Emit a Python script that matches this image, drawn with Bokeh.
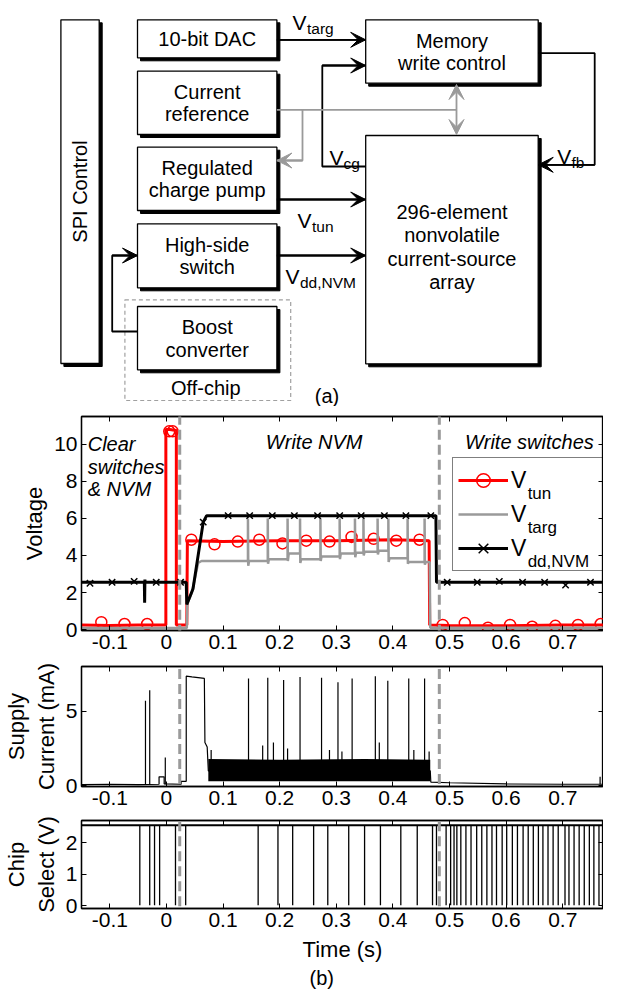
import math
from bokeh.plotting import figure
from bokeh.models import (Range1d, LinearAxis, FixedTicker, CustomJSTickFormatter,
                          Legend, LegendItem, Label, Arrow, VeeHead, Whisker,
                          ColumnDataSource, Title)
from bokeh.layouts import column, row
from bokeh.core.properties import value
from bokeh.embed import file_html
from bokeh.resources import INLINE

FONT = "Liberation Sans"
GRAY = "#9a9a9a"
RED = "#ff0000"

# ================= (a) block diagram (page-pixel layout) =================
box_left   = [60.4, 137.0, 137.0, 137.0, 137.0, 137.0, 365.2, 365.2]
box_top    = [19.3, 19.3, 70.7, 146.7, 223.3, 306.0, 19.3, 135.0]
box_right  = [98.7, 276.4, 276.4, 276.4, 276.4, 276.4, 537.7, 537.7]
box_bottom = [363.0, 57.3, 134.0, 210.0, 287.3, 369.3, 82.7, 363.3]

box_text   = ["10-bit DAC", "Current", "reference", "Regulated", "charge pump",
              "High-side", "switch", "Boost", "converter", "Memory", "write control",
              "296-element", "nonvolatile", "current-source", "array", "Off-chip"]
box_text_x = [206.7, 206.7, 206.7, 206.7, 206.7, 206.7, 206.7, 206.7, 206.7,
              451.5, 451.5, 451.5, 451.5, 451.5, 451.5, 205.3]
box_text_y = [38.5, 91.0, 113.5, 167.0, 189.5, 244.0, 266.5, 326.5, 349.0,
              40.5, 62.5, 211.0, 234.5, 258.0, 281.5, 387.0]

wires_black = [
    [(276.4, 39.3), (365.2, 39.3)],
    [(365.2, 166.0), (321.8, 166.0), (321.8, 65.0), (365.2, 65.0)],
    [(537.7, 52.7), (594.2, 52.7), (594.2, 164.3), (537.7, 164.3)],
    [(276.4, 199.0), (365.2, 199.0)],
    [(276.4, 255.0), (365.2, 255.0)],
    [(137.0, 331.0), (111.7, 331.0), (111.7, 255.0), (137.0, 255.0)],
]
wires_gray = [
    [(276.4, 109.3), (456.0, 109.3)],
    [(302.0, 109.3), (302.0, 160.0), (276.4, 160.0)],
]
gray_double = [(456.0, 84.0), (456.0, 134.0)]

sig_main = ["V", "V", "V", "V", "V"]
sig_sub = ["targ", "cg", "fb", "tun", "dd,NVM"]
sig_vx = [292.0, 329.0, 556.7, 297.0, 285.0]
sig_vy = [22.0, 157.0, 156.0, 220.0, 276.0]
sig_sx = [306.5, 343.0, 571.0, 311.5, 299.5]
sig_sy = [27.5, 162.5, 161.5, 225.5, 281.5]

# ================= (b) measured traces =================
x_ticks = [-0.1, 0.0, 0.1, 0.2, 0.3, 0.4, 0.5, 0.6, 0.7]
volt_ticks = [0, 2, 4, 6, 8, 10]
curr_ticks = [0, 5]
cs_ticks = [0, 1, 2]
phase_bounds = [0.0235, 0.482]

t_tun = [-0.15, -0.1, -0.05, -0.001, -0.001, 0.006, 0.0175, 0.0175, 0.036, 0.037,
         0.1, 0.2, 0.3, 0.4, 0.464, 0.465, 0.5, 0.6, 0.7, 0.8]
v_tun = [0.25, 0.22, 0.25, 0.25, 10.8, 10.8, 10.75, 0.25, 0.25, 4.8,
         4.75, 4.8, 4.8, 4.85, 4.8, 0.25, 0.22, 0.2, 0.25, 0.25]
t_tun_mk = [-0.115, -0.074, -0.034, 0.005, 0.011, 0.044, 0.085, 0.126, 0.164, 0.205,
            0.247, 0.288, 0.327, 0.366, 0.406, 0.447, 0.488, 0.527, 0.568, 0.607,
            0.646, 0.687, 0.727, 0.767]
v_tun_mk = [0.4, 0.3, 0.3, 10.7, 10.7, 4.85, 4.6, 4.75, 4.85, 4.65,
            4.8, 4.75, 5.0, 4.9, 4.8, 4.85, 0.25, 0.35, 0.1, 0.25,
            0.15, 0.2, 0.25, 0.3]

t_targ = [-0.15, 0.036, 0.037, 0.045, 0.056, 0.062,
          0.144, 0.144, 0.1445, 0.146,
          0.179, 0.179, 0.1795, 0.181,
          0.214, 0.214, 0.2145, 0.216,
          0.236, 0.236, 0.2365, 0.238,
          0.272, 0.272, 0.2725, 0.274,
          0.306, 0.306, 0.3065, 0.308,
          0.333, 0.333, 0.3335, 0.335,
          0.348, 0.348, 0.3485, 0.350,
          0.373, 0.373, 0.3735, 0.375,
          0.392, 0.392, 0.3925, 0.394,
          0.426, 0.426, 0.4265, 0.428,
          0.456, 0.456, 0.4565, 0.458,
          0.465, 0.466, 0.8]
v_targ = [0.08, 0.08, 1.4, 2.0, 3.6, 3.7,
          3.7, 6.0, 3.45, 3.7,
          3.7, 6.0, 3.55, 3.8,
          3.8, 6.0, 3.7, 4.1,
          4.1, 6.0, 3.6, 3.8,
          3.8, 6.0, 3.7, 3.95,
          3.95, 6.0, 3.8, 4.1,
          4.1, 6.0, 3.9, 4.15,
          4.15, 6.0, 4.0, 4.2,
          4.2, 6.0, 4.05, 4.25,
          4.25, 6.0, 3.65, 3.85,
          3.85, 6.0, 3.55, 3.65,
          3.65, 6.0, 3.5, 3.65,
          3.65, 0.1, 0.1]

t_dd = [-0.15, -0.039, -0.0385, -0.038, -0.0375, 0.035, 0.036, 0.047, 0.065, 0.071,
        0.476, 0.477, 0.8]
v_dd = [2.55, 2.55, 1.45, 2.7, 2.55, 2.55, 1.35, 2.2, 5.8, 6.15,
        6.15, 2.55, 2.55]
t_dd_mk = [-0.135, -0.096, -0.057, -0.018, 0.025, 0.065, 0.109, 0.147, 0.187, 0.226,
           0.267, 0.306, 0.344, 0.385, 0.423, 0.467, 0.496, 0.549, 0.588, 0.629,
           0.668, 0.705, 0.749, 0.79]
v_dd_mk = [2.5, 2.55, 2.6, 2.55, 2.55, 5.8, 6.15, 6.15, 6.15, 6.15,
           6.15, 6.15, 6.15, 6.15, 6.15, 6.15, 2.55, 2.55, 2.6, 2.55,
           2.55, 2.4, 2.55, 2.5]

t_cur = [-0.15, -0.1, -0.05, -0.013, -0.013, -0.004, -0.004, 0.026, 0.026, 0.035,
         0.035, 0.045, 0.067, 0.068, 0.072, 0.074, 0.466, 0.467, 0.5, 0.6, 0.7, 0.8]
i_cur = [0.08, 0.1, 0.08, 0.1, 0.6, 0.6, 0.12, 0.1, 0.3, 0.3,
         7.35, 7.3, 7.2, 2.9, 2.6, 1.0, 1.0, 0.25, 0.2, 0.12, 0.1, 0.1]
t_band = [0.074, 0.2, 0.35, 0.466]
band_lo = [0.3, 0.3, 0.3, 0.3]
band_hi = [1.8, 1.75, 1.8, 1.75]
spk_t = [-0.037, -0.0295, -0.002, 0.079, 0.145, 0.170, 0.179, 0.189, 0.207, 0.214,
         0.236, 0.274, 0.288, 0.303, 0.310, 0.328, 0.369, 0.376, 0.391, 0.428,
         0.437, 0.456, 0.464, 0.766]
spk_peak = [5.7, 6.4, 1.9, 2.4, 7.2, 2.7, 7.25, 2.9, 7.1, 2.5,
            7.3, 7.25, 2.4, 6.95, 2.3, 7.2, 7.35, 2.9, 7.05, 7.2,
            2.4, 7.2, 2.3, 0.6]
spk_base = [0.1, 0.1, 0.1, 1.0, 1.0, 1.0, 1.0, 1.0, 1.0, 1.0,
            1.0, 1.0, 1.0, 1.0, 1.0, 1.0, 1.0, 1.0, 1.0, 1.0,
            1.0, 1.0, 1.0, 0.1]

t_cs_line = [-0.15, 0.8]
v_cs_line = [2.55, 2.55]
cs_high = 2.55
cs_low = 0.02
t_cs_pulse = [-0.047, -0.0295, -0.021, -0.012, 0.016, 0.034, 0.162, 0.197, 0.223, 0.260,
              0.285, 0.322, 0.350, 0.378, 0.414, 0.443, 0.470, 0.477, 0.494, 0.502,
              0.508, 0.513, 0.520, 0.529, 0.538, 0.548, 0.557, 0.566, 0.575, 0.583,
              0.593, 0.601, 0.611, 0.620, 0.630, 0.639, 0.648, 0.657, 0.665, 0.674,
              0.683, 0.692, 0.704, 0.711, 0.720, 0.729, 0.738, 0.747, 0.755, 0.764, 0.773]

legend_sub = ["tun", "targ", "dd,NVM"]
legend_sub_t = [0.638, 0.638, 0.638]
legend_sub_v = [7.34, 5.51, 3.67]

W = 603
X_RANGE = (-0.15, 0.772)

# ================= build (a) =================
d = figure(width=W, height=406, x_range=Range1d(0, W), y_range=Range1d(406, 0),
           x_axis_type=None, y_axis_type=None, output_backend="svg",
           toolbar_location=None, min_border=0, min_border_left=0, min_border_right=0,
           min_border_top=0, min_border_bottom=0)
d.outline_line_color = None
d.grid.visible = False

SH = 3.0
d.quad(left=[l + SH for l in box_left], right=[r + SH for r in box_right],
       top=[t + SH for t in box_top], bottom=[b + SH for b in box_bottom],
       fill_color="black", line_color="black")
d.quad(left=box_left, right=box_right, top=box_top, bottom=box_bottom,
       fill_color="white", line_color="black", line_width=1.3)
d.quad(left=[124.4], right=[290.2], top=[299.3], bottom=[400.0], fill_color=None,
       line_color="#a0a0a0", line_width=1.2, line_dash="4 3")

d.text(x=box_text_x, y=box_text_y, text=box_text, text_align="center",
       text_baseline="middle", text_font=value(FONT), text_font_size=value("20px"),
       text_color="black")
d.text(x=[79.0], y=[191.0], text=["SPI Control"], angle=math.pi / 2,
       text_align="center", text_baseline="middle", text_font=value(FONT),
       text_font_size=value("20px"), text_color="black")
d.text(x=[326.5], y=[395.0], text=["(a)"], text_align="center", text_baseline="middle",
       text_font=value(FONT), text_font_size=value("20px"), text_color="black")
d.text(x=sig_vx, y=sig_vy, text=sig_main, text_align="left", text_baseline="alphabetic",
       text_font=value(FONT), text_font_size=value("21px"), text_color="black")
d.text(x=sig_sx, y=sig_sy, text=sig_sub, text_align="left", text_baseline="alphabetic",
       text_font=value(FONT), text_font_size=value("15.5px"), text_color="black")

d.multi_line(xs=[[p[0] for p in w] for w in wires_black],
             ys=[[p[1] for p in w] for w in wires_black], line_color="black", line_width=1.8)
d.multi_line(xs=[[p[0] for p in w] for w in wires_gray],
             ys=[[p[1] for p in w] for w in wires_gray], line_color=GRAY, line_width=1.8)
for w in wires_black:
    (xa, ya), (xb, yb) = w[-2], w[-1]
    d.add_layout(Arrow(x_start=xa, y_start=ya, x_end=xb, y_end=yb, line_color="black",
                       line_width=1.8, end=VeeHead(size=15, fill_color="black",
                                                   line_color="black", line_width=1)))
(xa, ya), (xb, yb) = wires_gray[1][-2], wires_gray[1][-1]
d.add_layout(Arrow(x_start=xa, y_start=ya, x_end=xb, y_end=yb, line_color=GRAY,
                   line_width=1.8, end=VeeHead(size=15, fill_color=GRAY,
                                               line_color=GRAY, line_width=1)))
d.add_layout(Arrow(x_start=gray_double[0][0], y_start=gray_double[0][1],
                   x_end=gray_double[1][0], y_end=gray_double[1][1], line_color=GRAY,
                   line_width=1.8,
                   start=VeeHead(size=15, fill_color=GRAY, line_color=GRAY, line_width=1),
                   end=VeeHead(size=15, fill_color=GRAY, line_color=GRAY, line_width=1)))

# ================= build (b) =================
fmt = CustomJSTickFormatter(code="return Number(tick.toFixed(2)).toString();")


def make_panel(height, yr, yticks, top, bottom, ylabel):
    p = figure(width=W, height=height, x_range=Range1d(*X_RANGE),
               y_range=Range1d(*yr), output_backend="svg", toolbar_location=None,
               min_border_left=81, min_border_right=0, min_border_top=top,
               min_border_bottom=bottom)
    p.grid.visible = False
    p.outline_line_color = "black"
    p.outline_line_width = 1.3
    p.xaxis.ticker = FixedTicker(ticks=x_ticks)
    p.yaxis.ticker = FixedTicker(ticks=yticks)
    p.xaxis.formatter = fmt
    p.yaxis.formatter = fmt
    p.yaxis.axis_label = ylabel
    for ax in p.axis:
        ax.axis_line_color = "black"
        ax.axis_line_width = 1.3
        ax.major_tick_in = 5
        ax.major_tick_out = 0
        ax.major_tick_line_color = "black"
        ax.minor_tick_line_color = None
        ax.major_label_text_font = FONT
        ax.major_label_text_font_size = "21px"
        ax.major_label_text_color = "black"
        ax.major_label_standoff = 4
        ax.axis_label_text_font = FONT
        ax.axis_label_text_font_size = "22px"
        ax.axis_label_text_font_style = "normal"
        ax.axis_label_text_color = "black"
        ax.axis_label_standoff = 4
    for loc, tk in (("above", x_ticks), ("right", yticks)):
        ax = LinearAxis(ticker=FixedTicker(ticks=tk), major_label_text_font_size="0px",
                        major_label_text_color=None, major_label_standoff=0,
                        major_tick_in=5, major_tick_out=0,
                        minor_tick_line_color=None, axis_line_color="black",
                        axis_line_width=1.3, major_tick_line_color="black")
        p.add_layout(ax, loc)
    return p


def add_phase_lines(p, lo, hi):
    src = ColumnDataSource(dict(base=phase_bounds, lower=[lo] * len(phase_bounds),
                                upper=[hi] * len(phase_bounds)))
    p.add_layout(Whisker(source=src, base="base", lower="lower", upper="upper",
                         dimension="height", lower_head=None, upper_head=None,
                         line_color=GRAY, line_width=3, line_dash="10 5", level="overlay"))


# ---- voltage ----
pv = make_panel(252, (-0.05, 11.5), volt_ticks, 10, 28, "Voltage")
r_tun = pv.line(t_tun, v_tun, line_color=RED, line_width=3)
r_tun_m = pv.scatter(t_tun_mk, v_tun_mk, marker="circle", size=11, fill_color=None,
                     line_color=RED, line_width=1.5)
r_targ = pv.line(t_targ, v_targ, line_color=GRAY, line_width=2.5)
r_dd = pv.line(t_dd, v_dd, line_color="black", line_width=3)
r_dd_m = pv.scatter(t_dd_mk, v_dd_mk, marker="x", size=9, line_color="black",
                    line_width=1.5)

for txt, x, y in (("Clear", -0.139, 10.0), ("switches", -0.139, 8.76), ("& NVM", -0.139, 7.58)):
    pv.add_layout(Label(x=x, y=y, text=txt, text_font=FONT, text_font_size="20px",
                        text_font_style="italic", text_baseline="alphabetic",
                        text_color="black"))
for txt, x in (("Write NVM", 0.261), ("Write switches", 0.641)):
    pv.add_layout(Label(x=x, y=10.1, text=txt, text_font=FONT, text_font_size="20px",
                        text_font_style="italic", text_baseline="alphabetic",
                        text_align="center", text_color="black"))

leg = Legend(items=[LegendItem(label="V", renderers=[r_tun, r_tun_m]),
                    LegendItem(label="V", renderers=[r_targ]),
                    LegendItem(label="V", renderers=[r_dd, r_dd_m])],
             location=(371, 59), padding=5, spacing=0, glyph_width=50, glyph_height=34,
             label_height=34, label_width=86, label_standoff=3, margin=0,
             border_line_color="black", border_line_width=1.2,
             background_fill_alpha=0.0,
             label_text_font=FONT, label_text_font_size="23px", label_text_color="black")
pv.add_layout(leg)
for sub, x, y in zip(legend_sub, legend_sub_t, legend_sub_v):
    pv.add_layout(Label(x=x, y=y, text=sub, text_font=FONT, text_font_size="17px",
                        text_baseline="alphabetic", text_color="black", level="overlay"))
add_phase_lines(pv, -10, 11.93)

# ---- supply current ----
pc = make_panel(157, (-0.05, 8.0), curr_ticks, 8, 29, "Supply\nCurrent (mA)")
pc.line(t_cur, i_cur, line_color="black", line_width=1.2)
pc.varea(x=t_band, y1=band_lo, y2=band_hi, fill_color="black")
pc.segment(x0=spk_t, y0=spk_base, x1=spk_t, y1=spk_peak, line_color="black", line_width=1.2)
add_phase_lines(pc, -20, 20)

# ---- chip select ----
ps = make_panel(174, (-0.08, 2.7), cs_ticks, 5, 81, "Chip\nSelect (V)")
ps.line(t_cs_line, v_cs_line, line_color="black", line_width=2)
ps.segment(x0=t_cs_pulse, y0=[cs_low] * len(t_cs_pulse), x1=t_cs_pulse,
           y1=[cs_high] * len(t_cs_pulse), line_color="black", line_width=1.3)
ps.below[0].axis_label = "Time (s)"
ps.below[0].axis_label_standoff = 7
ps.add_layout(Title(text="(b)", align="left", offset=228, text_font=FONT,
                    text_font_size="20px", text_font_style="normal",
                    text_color="black", standoff=0), "below")
add_phase_lines(ps, -0.96, 10)

layout = column(row(d), pv, pc, ps, spacing=0)
open("out.html", "w").write(file_html(layout, INLINE))
